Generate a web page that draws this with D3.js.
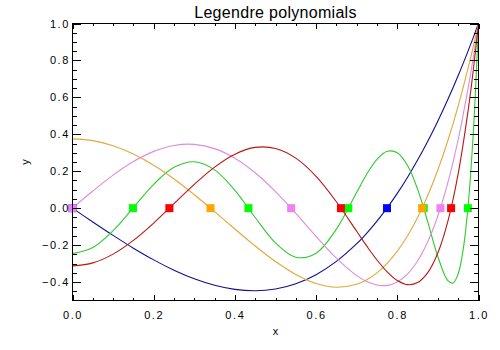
<!DOCTYPE html>
<html>
<head>
<meta charset="utf-8">
<script src="https://cdn.jsdelivr.net/npm/d3@7"></script>
<style>
  html, body { margin: 0; padding: 0; background: #fff; }
  svg { display: block; }
</style>
</head>
<body>
<svg id="chart" width="500" height="350"></svg>
<script>
// ---- data ----
const titleText = "Legendre polynomials";
const xTitle = "x";
const yTitle = "y";
const xMajorTicks = [0, 0.2, 0.4, 0.6, 0.8, 1.0];
const yMajorTicks = [-0.4, -0.2, 0, 0.2, 0.4, 0.6, 0.8, 1.0];

const xs = [0, 0.05, 0.1, 0.15, 0.2, 0.25, 0.3, 0.35, 0.4, 0.45, 0.5, 0.55, 0.6, 0.65, 0.7,
            0.725, 0.75, 0.775, 0.8, 0.825, 0.85, 0.875, 0.9, 0.925, 0.95, 0.975, 0.9875, 1];
const p3 = [0, -0.0747, -0.1475, -0.2166, -0.28, -0.3359, -0.3825, -0.4178, -0.44, -0.4472, -0.4375, -0.4091, -0.36, -0.2884, -0.1925,
            -0.1348, -0.0703, 0.0012, 0.08, 0.1663, 0.2603, 0.3623, 0.4725, 0.5911, 0.7184, 0.8546, 0.9262, 1];
const p4 = [0.375, 0.3657, 0.3379, 0.2928, 0.232, 0.1577, 0.0729, -0.0187, -0.113, -0.2050, -0.2891, -0.3590, -0.408, -0.4284, -0.4121,
            -0.3874, -0.3501, -0.2991, -0.233, -0.1506, -0.0506, 0.0685, 0.2079, 0.3693, 0.5541, 0.7638, 0.8785, 1];
const p5 = [0, 0.0927, 0.1788, 0.2523, 0.3075, 0.3397, 0.3454, 0.3225, 0.2706, 0.1917, 0.0898, -0.0282, -0.1526, -0.2705, -0.3652,
            -0.3977, -0.4164, -0.4182, -0.3995, -0.3567, -0.2857, -0.1820, -0.0411, 0.1420, 0.3727, 0.6567, 0.8206, 1];
const p6 = [-0.3125, -0.2962, -0.2488, -0.1747, -0.0806, 0.0243, 0.1292, 0.2225, 0.2926, 0.3290, 0.3232, 0.2708, 0.1721, 0.0347, -0.1253,
            -0.2058, -0.2808, -0.3449, -0.3918, -0.4140, -0.4030, -0.3491, -0.2412, -0.0669, 0.1875, 0.5374, 0.7535, 1];

const xs10 = [0, 0.05, 0.1, 0.15, 0.2, 0.25, 0.3, 0.35, 0.4, 0.45, 0.5, 0.55, 0.6, 0.65, 0.7,
              0.725, 0.75, 0.775, 0.8, 0.825, 0.85, 0.875, 0.9, 0.925, 0.9375, 0.95, 0.9625, 0.975, 0.9875, 1];
const p10 = [-0.2461, -0.2130, -0.1221, 0.0030, 0.1291, 0.2212, 0.2515, 0.2073, 0.0968, -0.0504, -0.1882, -0.2658, -0.2437, -0.1136, 0.0858,
             0.1851, 0.2644, 0.3078, 0.3005, 0.2326, 0.1029, -0.0745, -0.2631, -0.3943, -0.4051, -0.3549, -0.2203, 0.0269, 0.4205, 1];

const roots3 = [0, 0.7746];
const roots4 = [0.3400, 0.8611];
const roots5 = [0, 0.5385, 0.9062];
const roots6 = [0.2386, 0.6612, 0.9325];
const roots10 = [0.1489, 0.4334, 0.6794, 0.8651, 0.9739];

// ---- drawing ----
const svg = d3.select("#chart");
const x = d3.scaleLinear().domain([0, 1]).range([72.5, 478.5]);
const y = d3.scaleLinear().domain([-0.5, 1]).range([300.5, 23.5]);

const fmt = d => (d < 0 ? "\u2212" : "") + Math.abs(d).toFixed(1);
const tickFont = "'Liberation Sans', Arial, sans-serif";

const series = [
  { xv: xs,   yv: p3,  line: "#10108f", mark: "#0000ff" },
  { xv: xs10, yv: p10, line: "#2ccc2c", mark: "#00ff00" },
  { xv: xs,   yv: p4,  line: "#e2a83a", mark: "#ffa500" },
  { xv: xs,   yv: p5,  line: "#dc8ddc", mark: "#ee82ee" },
  { xv: xs,   yv: p6,  line: "#bb1515", mark: "#ff0000" }
];
const rootSets = [
  { r: roots3, mark: "#0000ff" },
  { r: roots10, mark: "#00ff00" },
  { r: roots4, mark: "#ffa500" },
  { r: roots5, mark: "#ee82ee" },
  { r: roots6, mark: "#ff0000" }
];

const lineGen = d3.line()
  .x(d => x(d[0])).y(d => y(d[1]))
  .curve(d3.curveCatmullRom.alpha(0.5));

const gLines = svg.append("g");
series.forEach(s => {
  gLines.append("path")
    .datum(s.xv.map((v, i) => [v, s.yv[i]]))
    .attr("d", lineGen)
    .attr("fill", "none")
    .attr("stroke", s.line)
    .attr("stroke-width", 1.1);
});

const gMarks = svg.append("g");
const ms = 8;
rootSets.forEach(s => {
  gMarks.selectAll(null).data(s.r).enter().append("rect")
    .attr("x", d => x(d) - ms / 2)
    .attr("y", y(0) - ms / 2)
    .attr("width", ms).attr("height", ms)
    .attr("fill", s.mark);
});

// minor tick values
const xMinor = d3.range(0, 21).map(i => i * 0.05).filter(v => !xMajorTicks.some(m => Math.abs(m - v) < 1e-6));
const yMinor = d3.range(0, 31).map(i => -0.5 + i * 0.05).filter(v => v > -0.5 + 1e-6 && !yMajorTicks.some(m => Math.abs(m - v) < 1e-6));

function styleAxis(g) {
  g.select(".domain").remove();
  g.selectAll("line").attr("stroke", "#000").attr("shape-rendering", "crispEdges");
  g.selectAll("text").attr("fill", "#000")
    .style("font-family", tickFont).style("font-size", "11px").style("letter-spacing", "1.6px");
}

const xLen = 5.6, yLen = 8.1;
// bottom
svg.append("g").attr("transform", `translate(0,${y.range()[0]})`)
  .call(d3.axisBottom(x).tickValues(xMajorTicks).tickFormat(fmt).tickSizeInner(-xLen).tickSizeOuter(0).tickPadding(10.5))
  .call(styleAxis);
svg.append("g").attr("transform", `translate(0,${y.range()[0]})`)
  .call(d3.axisBottom(x).tickValues(xMinor).tickFormat("").tickSizeInner(-xLen / 2).tickSizeOuter(0))
  .call(styleAxis);
// top
svg.append("g").attr("transform", `translate(0,${y.range()[1]})`)
  .call(d3.axisTop(x).tickValues(xMajorTicks).tickFormat("").tickSizeInner(-xLen).tickSizeOuter(0))
  .call(styleAxis);
svg.append("g").attr("transform", `translate(0,${y.range()[1]})`)
  .call(d3.axisTop(x).tickValues(xMinor).tickFormat("").tickSizeInner(-xLen / 2).tickSizeOuter(0))
  .call(styleAxis);
// left
svg.append("g").attr("transform", `translate(${x.range()[0]},0)`)
  .call(d3.axisLeft(y).tickValues(yMajorTicks).tickFormat(fmt).tickSizeInner(-yLen).tickSizeOuter(0).tickPadding(2.5))
  .call(styleAxis);
svg.append("g").attr("transform", `translate(${x.range()[0]},0)`)
  .call(d3.axisLeft(y).tickValues(yMinor).tickFormat("").tickSizeInner(-yLen / 2).tickSizeOuter(0))
  .call(styleAxis);
// right
svg.append("g").attr("transform", `translate(${x.range()[1]},0)`)
  .call(d3.axisRight(y).tickValues(yMajorTicks).tickFormat("").tickSizeInner(-yLen).tickSizeOuter(0))
  .call(styleAxis);
svg.append("g").attr("transform", `translate(${x.range()[1]},0)`)
  .call(d3.axisRight(y).tickValues(yMinor).tickFormat("").tickSizeInner(-yLen / 2).tickSizeOuter(0))
  .call(styleAxis);

// frame
svg.append("rect")
  .attr("x", x.range()[0]).attr("y", y.range()[1])
  .attr("width", x.range()[1] - x.range()[0]).attr("height", y.range()[0] - y.range()[1])
  .attr("fill", "none").attr("stroke", "#000").attr("stroke-width", 1)
  .attr("shape-rendering", "crispEdges");

// title and axis titles
svg.append("text").text(titleText)
  .attr("x", (x.range()[0] + x.range()[1]) / 2).attr("y", 18.3)
  .attr("text-anchor", "middle")
  .style("font-family", tickFont).style("font-size", "16px").style("letter-spacing", "0.3px");

svg.append("text").text(xTitle)
  .attr("x", (x.range()[0] + x.range()[1]) / 2).attr("y", 335)
  .attr("text-anchor", "middle")
  .style("font-family", tickFont).style("font-size", "11px");

svg.append("text").text(yTitle)
  .attr("transform", `translate(29,${(y.range()[0] + y.range()[1]) / 2}) rotate(-90)`)
  .attr("text-anchor", "middle")
  .style("font-family", tickFont).style("font-size", "11px");
</script>
</body>
</html>
